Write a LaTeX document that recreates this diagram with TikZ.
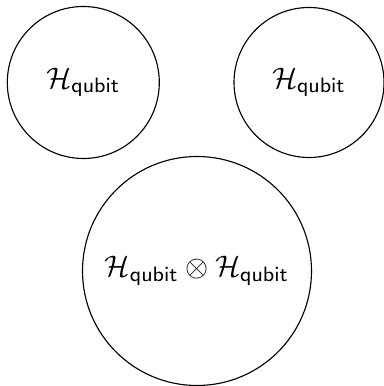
\documentclass[tikz,border=0pt]{standalone}
\usepackage{amsmath}
\newcommand{\hq}{\mathcal{H}_{\mathsf{qubit}}}
\begin{document}
\begin{tikzpicture}[x=0.31pt,y=-0.31pt,
  space/.style={circle,draw,line width=0.35pt,inner sep=0pt}]
\useasboundingbox (0,0) rectangle (384,386);
\node[space,minimum size=152*0.31pt] (a) at (83.3,82.5) {\scalebox{0.92}{$\hq$}};
\node[space,minimum size=150*0.31pt] (b) at (309,82.5) {\scalebox{0.92}{$\hq$}};
\node[space,minimum size=229*0.31pt] (c) at (197,271) {\scalebox{0.92}{$\hq\otimes\hq$}};
\end{tikzpicture}
\end{document}
